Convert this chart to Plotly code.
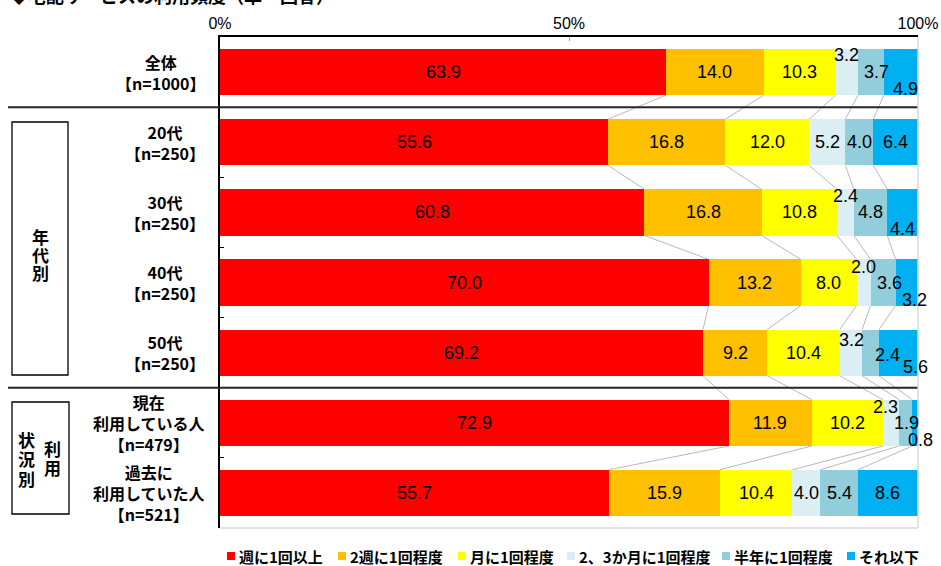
import plotly.graph_objects as go

# ---- data -------------------------------------------------------------
row_labels = [
    "全体<br>【n=1000】",
    "20代<br>【n=250】",
    "30代<br>【n=250】",
    "40代<br>【n=250】",
    "50代<br>【n=250】",
    "現在<br>利用している人<br>【n=479】",
    "過去に<br>利用していた人<br>【n=521】",
]
series_names = ["週に1回以上", "2週に1回程度", "月に1回程度",
                "2、3か月に1回程度", "半年に1回程度", "それ以下"]

weekly    = [63.9, 55.6, 60.8, 70.0, 69.2, 72.9, 55.7]
biweekly  = [14.0, 16.8, 16.8, 13.2, 9.2, 11.9, 15.9]
monthly   = [10.3, 12.0, 10.8, 8.0, 10.4, 10.2, 10.4]
bimonthly = [3.2, 5.2, 2.4, 2.0, 3.2, 2.3, 4.0]
halfyear  = [3.7, 4.0, 4.8, 3.6, 2.4, 1.9, 5.4]
less      = [4.9, 6.4, 4.4, 3.2, 5.6, 0.8, 8.6]

series_values = [weekly, biweekly, monthly, bimonthly, halfyear, less]
colors = ["#FF0000", "#FFC000", "#FFFF00", "#DAEEF3", "#92CDDC", "#00B0F0"]

x_ticks = [0, 50, 100]
x_tick_text = ["0%", "50%", "100%"]

# group headings, written top-to-bottom one character at a time
group_age = "年代別"
group_status = "状況別"
group_use = "利用"

# label nudges (pixels) for narrow segments: (row, series) -> (dx, dy)
label_nudge = {
    (0, 3): (0, -17), (0, 4): (6, 0), (0, 5): (5, 17),
    (2, 3): (0, -16), (2, 5): (0, 17),
    (3, 3): (0, -16), (3, 4): (6, 0), (3, 5): (8, 17),
    (4, 3): (1, -13), (4, 4): (17, 2), (4, 5): (17, 14),
    (5, 3): (-6, -16), (5, 4): (1, 0), (5, 5): (5, 17),
}

# legend entry positions (left pixel of each swatch)
legend_x = [227, 338, 458, 567, 722, 847]
LEGEND_Y = 556

# ---- geometry ---------------------------------------------------------
W, H = 941, 566
ML, MR, MT, MB = 220, 23, 37, 38
PW, PH = W - ML - MR, H - MT - MB
BAR_W = 0.66
JP = "Noto Sans CJK JP, Noto Sans, sans-serif"
NUM = "Liberation Sans, Arial, sans-serif"


def px_x(p):
    return (p - ML) / PW


def px_y(p):
    return 1 - (p - MT) / PH


n_rows = len(row_labels)
ypos = list(range(n_rows))

fig = go.Figure()
for name, vals, col in zip(series_names, series_values, colors):
    fig.add_trace(go.Bar(
        x=vals, y=ypos, orientation="h", name=name,
        marker=dict(color=col, line=dict(width=0)),
        width=BAR_W, hoverinfo="x+name", showlegend=False,
    ))

# cumulative boundaries per row
cums = []
for r in range(n_rows):
    c, acc = [0.0], 0.0
    for vals in series_values:
        acc += vals[r]
        c.append(acc)
    cums.append(c)

annotations = []
# value labels
for r in range(n_rows):
    for s, vals in enumerate(series_values):
        v = vals[r]
        mid = (cums[r][s] + cums[r][s + 1]) / 2
        dx, dy = label_nudge.get((r, s), (0, 0))
        annotations.append(dict(
            x=mid, y=r, xref="x", yref="y", text=f"{v:.1f}",
            showarrow=False, xshift=dx, yshift=-dy,
            font=dict(family=NUM, size=18, color="#000000"),
        ))

# row labels
for r, lab in enumerate(row_labels):
    annotations.append(dict(
        x=px_x(207), y=r, xref="paper", yref="y", text=lab,
        showarrow=False, xanchor="right", align="center",
        font=dict(family=JP, size=16, color="#000000", weight="bold"),
    ))

# group headings (vertical text)
VFONT = dict(family=JP, size=17, color="#000000", weight="bold")


def vertical(text, cx, top, step):
    for i, ch in enumerate(text):
        annotations.append(dict(
            x=px_x(cx), y=px_y(top + i * step), xref="paper", yref="paper",
            text=ch, showarrow=False, xanchor="center", yanchor="middle",
            font=VFONT,
        ))


vertical(group_age, 40, 236, 18)
vertical(group_status, 26, 439, 19.5)
vertical(group_use, 52, 448, 19)

# title at the top edge
annotations.append(dict(
    x=px_x(8), y=px_y(-5), xref="paper", yref="paper",
    text="◆宅配サービスの利用頻度（単一回答）", showarrow=False,
    xanchor="left", yanchor="middle",
    font=dict(family=JP, size=18, color="#000000", weight="bold"),
))

shapes = []
# leader lines between adjacent bars
for r in range(n_rows - 1):
    for k in range(1, len(series_values)):
        shapes.append(dict(
            type="line", xref="x", yref="y",
            x0=cums[r][k], y0=r + BAR_W / 2,
            x1=cums[r + 1][k], y1=r + 1 - BAR_W / 2,
            line=dict(color="#A6A6A6", width=0.8), layer="below",
        ))

# group separators
for yb in (0.5, 4.5):
    shapes.append(dict(
        type="line", xref="paper", yref="y",
        x0=px_x(8), x1=1, y0=yb, y1=yb,
        line=dict(color="#262626", width=2),
    ))

# group boxes
shapes.append(dict(type="rect", xref="paper", yref="paper",
                   x0=px_x(12), x1=px_x(68), y0=px_y(122), y1=px_y(375),
                   line=dict(color="#000000", width=1.3)))
shapes.append(dict(type="rect", xref="paper", yref="paper",
                   x0=px_x(12), x1=px_x(69), y0=px_y(402), y1=px_y(514),
                   line=dict(color="#000000", width=1.3)))

# right and bottom frame
shapes.append(dict(type="line", xref="paper", yref="paper",
                   x0=1, x1=1, y0=0, y1=1,
                   line=dict(color="#D9D9D9", width=1.5)))
shapes.append(dict(type="line", xref="paper", yref="paper",
                   x0=0, x1=1, y0=0, y1=0,
                   line=dict(color="#D9D9D9", width=1.5)))

# legend: swatches and names
for name, col, lx in zip(series_names, colors, legend_x):
    shapes.append(dict(type="rect", xref="paper", yref="paper",
                       x0=px_x(lx), x1=px_x(lx + 8),
                       y0=px_y(LEGEND_Y + 4), y1=px_y(LEGEND_Y - 4),
                       fillcolor=col, line=dict(width=0)))
    annotations.append(dict(
        x=px_x(lx + 10), y=px_y(LEGEND_Y), xref="paper", yref="paper",
        text=name, showarrow=False, xanchor="left", yanchor="middle",
        font=dict(family=JP, size=15, color="#000000", weight="bold"),
    ))

fig.update_layout(
    width=W, height=H,
    margin=dict(l=ML, r=MR, t=MT, b=MB, autoexpand=False),
    paper_bgcolor="#FFFFFF", plot_bgcolor="#FFFFFF",
    barmode="stack",
    showlegend=False,
    xaxis=dict(
        side="top", range=[0, 100], tickvals=x_ticks, ticktext=x_tick_text,
        showgrid=False, zeroline=False, showline=True,
        linecolor="#000000", linewidth=1.5,
        ticks="inside", ticklen=4, tickcolor="#A6A6A6",
        tickfont=dict(family=NUM, size=16, color="#000000"),
        fixedrange=True,
    ),
    yaxis=dict(
        range=[n_rows - 0.5, -0.5], showgrid=False, zeroline=False,
        showline=True, linecolor="#000000", linewidth=1.5,
        tickvals=[i + 0.5 for i in range(n_rows - 1)],
        showticklabels=False, ticks="inside", ticklen=4,
        tickcolor="#000000", fixedrange=True,
    ),
    annotations=annotations,
    shapes=shapes,
    bargap=0.34,
)

fig.write_html("out.html")
